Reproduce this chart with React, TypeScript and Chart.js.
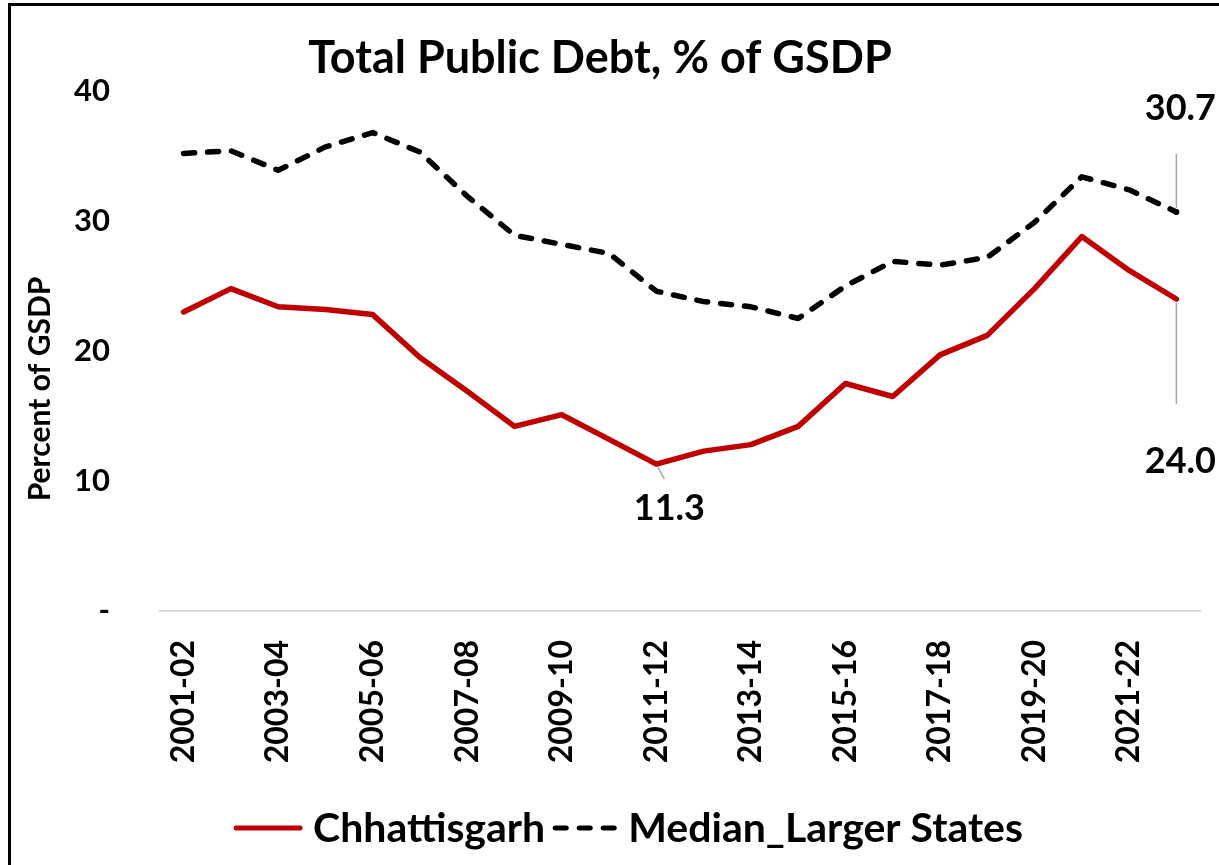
import React, { useEffect, useRef } from "react";
import { Chart, registerables } from "chart.js";

Chart.register(...registerables);

const categories = [
  "2001-02", "2002-03", "2003-04", "2004-05", "2005-06", "2006-07", "2007-08", "2008-09",
  "2009-10", "2010-11", "2011-12", "2012-13", "2013-14", "2014-15", "2015-16", "2016-17",
  "2017-18", "2018-19", "2019-20", "2020-21", "2021-22", "2022-23",
];
const chhattisgarh = [
  23.0, 24.8, 23.4, 23.2, 22.8, 19.5, 16.9, 14.2, 15.1, 13.2, 11.3,
  12.3, 12.8, 14.2, 17.5, 16.5, 19.7, 21.2, 24.8, 28.8, 26.2, 24.0,
];
const medianLarger = [
  35.2, 35.4, 33.9, 35.7, 36.8, 35.3, 31.9, 28.9, 28.2, 27.5, 24.6,
  23.8, 23.4, 22.5, 25.0, 26.9, 26.6, 27.2, 29.9, 33.4, 32.4, 30.7,
];
const seriesNames = ["Chhattisgarh", "Median_Larger States"];
const yTickValues = [0, 10, 20, 30, 40];
const chartTitle = "Total Public Debt, % of GSDP";
const yAxisTitle = "Percent of GSDP";
// data labels: which series, which category index
const labelSeries = [1, 0, 0];
const labelIndex = [21, 21, 10];

const FONT = "Lato, 'Open Sans', sans-serif";

const overlayPlugin = {
  id: "overlay",
  afterDatasetsDraw(chart: any) {
    const ctx = chart.ctx;
    ctx.save();
    // y-axis title
    ctx.fillStyle = "#000";
    ctx.font = `bold 30px ${FONT}`;
    ctx.textAlign = "center";
    ctx.textBaseline = "middle";
    ctx.translate(40, 389);
    ctx.rotate(-Math.PI / 2);
    ctx.fillText(yAxisTitle, 0, 0);
    ctx.restore();

    // data labels with leader lines
    const styles = [
      { tdx: 4, tdy: -104, l0: -4, l1: -58, lx: 0 },
      { tdx: 4, tdy: 162, l0: 4, l1: 105, lx: 0 },
      { tdx: 13, tdy: 44, l0: 3, l1: 15, lx: 8 },
    ];
    labelSeries.forEach((s, i) => {
      const meta = chart.getDatasetMeta(s);
      const pt = meta.data[labelIndex[i]];
      const st = styles[i];
      const value = chart.data.datasets[s].data[labelIndex[i]];
      ctx.save();
      ctx.strokeStyle = "#a6a6a6";
      ctx.lineWidth = 1.5;
      ctx.beginPath();
      const t0 = st.l0 / st.l1;
      ctx.moveTo(pt.x + st.lx * t0, pt.y + st.l0);
      ctx.lineTo(pt.x + st.lx, pt.y + st.l1);
      ctx.stroke();
      ctx.fillStyle = "#000";
      ctx.font = `bold 36px ${FONT}`;
      ctx.textAlign = "center";
      ctx.textBaseline = "middle";
      ctx.fillText(Number(value).toFixed(1), pt.x + st.tdx, pt.y + st.tdy);
      ctx.restore();
    });

    // legend
    ctx.save();
    ctx.font = `bold 41px ${FONT}`;
    const ds = chart.data.datasets;
    const sample = [70, 66];
    const gapAfterSample = 10;
    const gapBetween = 7;
    const widths = ds.map((d: any) => ctx.measureText(d.label).width);
    const total = sample[0] + gapAfterSample + widths[0] + gapBetween + sample[1] + gapAfterSample + widths[1];
    let x = 628 - total / 2;
    const ly = 828;
    ds.forEach((d: any, i: number) => {
      ctx.save();
      ctx.strokeStyle = d.borderColor;
      ctx.lineWidth = 5;
      ctx.lineCap = "round";
      ctx.setLineDash(d.borderDash || []);
      ctx.beginPath();
      ctx.moveTo(x + 3, ly);
      ctx.lineTo(x + sample[i] - 3, ly);
      ctx.stroke();
      ctx.restore();
      x += sample[i] + gapAfterSample;
      ctx.fillStyle = "#000";
      ctx.textAlign = "left";
      ctx.textBaseline = "middle";
      ctx.fillText(d.label, x, ly + 1);
      x += widths[i] + gapBetween;
    });
    ctx.restore();
  },
};

export default function App() {
  const ref = useRef<HTMLCanvasElement | null>(null);

  useEffect(() => {
    if (!ref.current) return;
    const lastIdx = categories.length - 1;
    const chart = new Chart(ref.current, {
      type: "line",
      data: {
        labels: categories,
        datasets: [
          {
            label: seriesNames[0],
            data: chhattisgarh,
            borderColor: "#c00000",
            backgroundColor: "#c00000",
            borderWidth: 5.5,
            borderJoinStyle: "round",
            borderCapStyle: "round",
            pointRadius: 0,
            tension: 0,
          },
          {
            label: seriesNames[1],
            data: medianLarger,
            borderColor: "#000000",
            backgroundColor: "#000000",
            borderWidth: 5.5,
            borderDash: [11, 13],
            borderJoinStyle: "round",
            borderCapStyle: "round",
            pointRadius: (c: any) => (c.dataIndex === lastIdx ? 3 : 0),
            pointBorderWidth: 0,
            tension: 0,
          },
        ],
      },
      options: {
        animation: false,
        responsive: false,
        layout: { padding: { left: 0, right: 19, top: 0, bottom: 70 } },
        plugins: {
          legend: { display: false },
          tooltip: { enabled: false },
          title: {
            display: true,
            text: chartTitle,
            color: "#000",
            font: { family: FONT, size: 45, weight: "bold", lineHeight: 1.2 },
            padding: { top: 31, bottom: 6 },
          },
        },
        scales: {
          x: {
            offset: true,
            grid: { display: false, drawTicks: false },
            border: { display: true, color: "#d9d9d9", width: 2 },
            ticks: {
              autoSkip: false,
              maxRotation: 90,
              minRotation: 90,
              padding: 29,
              color: "#000",
              font: { family: FONT, size: 32, weight: "bold" },
              callback: (_v: any, i: number) => (i % 2 === 0 ? categories[i] : ""),
            },
            afterFit: (s: any) => {
              s.height = 184;
              s.paddingLeft = 0;
              s.paddingRight = 0;
            },
          },
          y: {
            min: 0,
            max: 40,
            grid: { display: false, drawTicks: false },
            border: { display: false },
            afterBuildTicks: (s: any) => {
              s.ticks = yTickValues.map((v) => ({ value: v }));
            },
            ticks: {
              padding: 50,
              color: "#000",
              font: { family: FONT, size: 31, weight: "bold" },
              callback: (v: any) => (v === 0 ? "-" : String(v)),
            },
            afterFit: (s: any) => {
              s.width = 160;
              s.paddingTop = 0;
              s.paddingBottom = 0;
            },
          },
        },
      },
      plugins: [overlayPlugin],
    });
    return () => chart.destroy();
  }, []);

  return (
    <div>
      <canvas
        ref={ref}
        width={1219}
        height={865}
        style={{ position: "fixed", left: 0, top: 0, width: 1219, height: 865 }}
      />
      <div
        style={{
          position: "fixed",
          left: 8,
          top: 3,
          width: 1300,
          height: 1000,
          border: "3px solid #000",
          pointerEvents: "none",
        }}
      />
    </div>
  );
}
